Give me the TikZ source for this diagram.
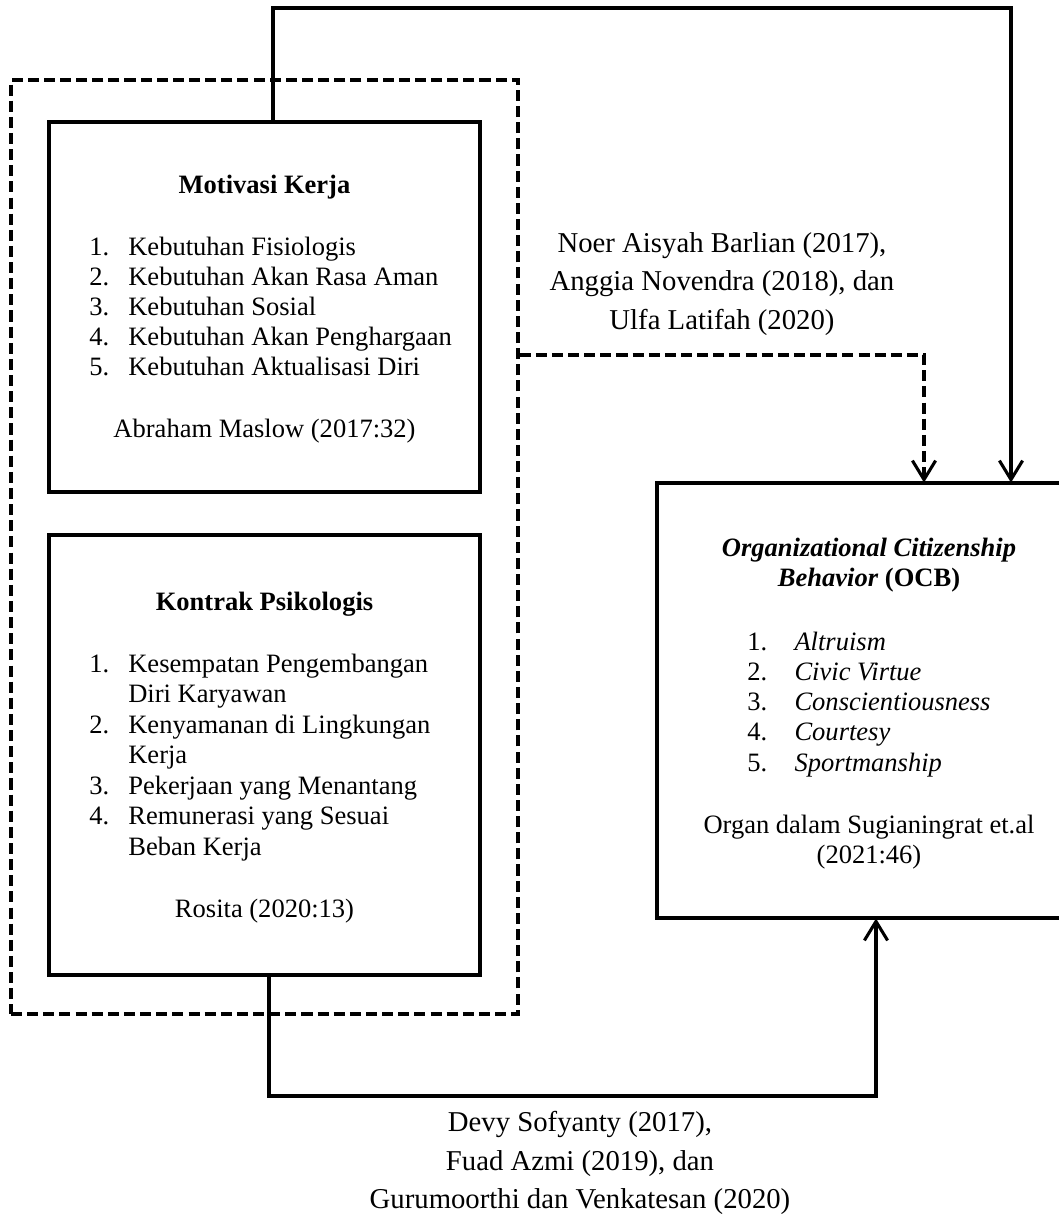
\documentclass[tikz,border=0pt]{standalone}
\usepackage{fontspec}
\setmainfont{Liberation Serif}
\usetikzlibrary{arrows.meta, fit}
\tikzset{
  kotak/.style={rectangle, draw=black, line width=1.8pt, inner sep=0pt},
  grup/.style={rectangle, draw=black, line width=1.5pt, dash pattern=on 5pt off 2.3pt, inner sep=0pt},
  judul/.style={font=\fontsize{12}{13.6}\selectfont\bfseries, inner sep=0pt, anchor=base},
  butir/.style={font=\fontsize{12}{13.6}\selectfont, inner sep=0pt, anchor=base west},
  sumber/.style={font=\fontsize{12}{13.6}\selectfont, inner sep=0pt, anchor=base},
  rujukan/.style={font=\fontsize{13}{17.4}\selectfont, align=center, inner sep=0pt},
  panah/.style={-{Straight Barb[length=8.6pt, width=10.5pt]}, line width=1.4pt},
  panahputus/.style={panah, dash pattern=on 5pt off 2.3pt},
}
\newcommand{\nomor}[2][17.6pt]{\makebox[#1][l]{#2}}

\begin{document}
\begin{tikzpicture}[x=0.0159cm, y=-0.0159cm]
  \useasboundingbox (0,0) rectangle (1059,1218);

  % kotak variabel
  \node[grup, fit={(11,80) (518,1014)}] (grp) {};
  \node[kotak, fit={(49,122) (480,492)}] (mot) {};
  \node[kotak, fit={(49,535) (480,975)}] (kon) {};
  \node[inner sep=0pt, fit={(657,483) (1059,918)}] (ocb) {};
  \draw[kotak] (ocb.north east) -- (ocb.north west) -- (ocb.south west) -- (ocb.south east);

  % motivasi kerja
  \node[judul] (motjdl) at (264.5,193) {Motivasi Kerja};
  \foreach \n/\t [count=\i] in {1./Kebutuhan Fisiologis, 2./Kebutuhan Akan Rasa Aman,
      3./Kebutuhan Sosial, 4./Kebutuhan Akan Penghargaan, 5./Kebutuhan Aktualisasi Diri}{
    \node[butir] (mot\i) at (89,{255+(\i-1)*30}) {\nomor{\n}\t};
  }
  \node[sumber] (motsbr) at (264.5,437) {Abraham Maslow (2017:32)};

  % kontrak psikologis
  \node[judul] (konjdl) at (264.5,610) {Kontrak Psikologis};
  \foreach \n/\t [count=\i] in {1./Kesempatan Pengembangan, /Diri Karyawan,
      2./Kenyamanan di Lingkungan, /Kerja, 3./Pekerjaan yang Menantang,
      4./Remunerasi yang Sesuai, /Beban Kerja}{
    \node[butir] (kon\i) at (89,{672+(\i-1)*30.5}) {\nomor{\n}\t};
  }
  \node[sumber] (konsbr) at (264.5,917) {Rosita (2020:13)};

  % OCB
  \node[judul] (ocbjdl1) at (869,556) {\textit{Organizational Citizenship}};
  \node[judul] (ocbjdl2) at (869,586) {\textit{Behavior} (OCB)};
  \foreach \t [count=\i] in {Altruism, Civic Virtue, Conscientiousness, Courtesy, Sportmanship}{
    \node[butir] (ocb\i) at (747,{650+(\i-1)*30.3}) {\nomor[21.3pt]{\i.}\textit{\t}};
  }
  \node[sumber] (ocbsbr1) at (869,833) {Organ dalam Sugianingrat et.al};
  \node[sumber] (ocbsbr2) at (869,863) {(2021:46)};

  % rujukan penelitian
  \node[rujukan] (ruj1) at (722,284) {Noer Aisyah Barlian (2017),\\Anggia Novendra (2018), dan\\Ulfa Latifah (2020)};
  \node[rujukan] (ruj2) at (580,1163) {Devy Sofyanty (2017),\\Fuad Azmi (2019), dan\\Gurumoorthi dan Venkatesan (2020)};

  % garis hubungan
  \coordinate (atasL) at (273,8);
  \coordinate (atasR) at (1011,8);
  \coordinate (putus) at (924,355);
  \coordinate (bawahL) at (269,1096);
  \coordinate (bawahR) at (876,1096);
  \draw[panah] (mot.north -| atasL) -- (atasL) -- (atasR) -- (ocb.north -| atasR);
  \draw[panahputus] (grp.east |- putus) -- (putus) -- (ocb.north -| putus);
  \draw[panah] (kon.south -| bawahL) -- (bawahL) -- (bawahR) -- (ocb.south -| bawahR);
\end{tikzpicture}
\end{document}
